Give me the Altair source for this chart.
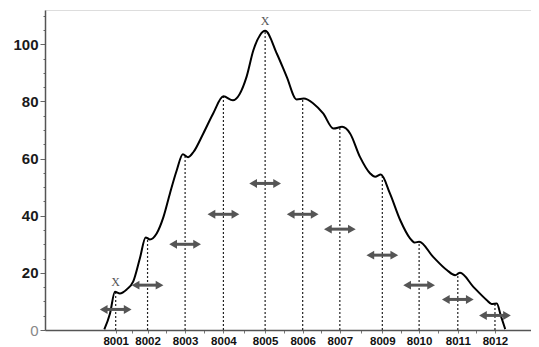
import altair as alt
import pandas as pd

# categories along the horizontal axis (8008 is absent in the source)
codes = ["8001", "8002", "8003", "8004", "8005", "8006", "8007", "8009", "8010", "8011", "8012"]
# location of each category along the axis (in category-step units)
cat_pos = [0.0, 0.84, 1.83, 2.84, 3.94, 4.93, 5.91, 7.03, 8.0, 9.02, 10.0]
# height where each dotted line meets the curve
peak_vals = [13.4, 32.4, 61.5, 81.8, 104.7, 81.0, 71.0, 54.4, 30.9, 20.0, 9.3]
# height of the double-headed arrow at each category
arrow_vals = [7.2, 15.7, 30.0, 40.5, 51.3, 40.5, 35.3, 26.2, 15.7, 10.7, 5.1]
# categories marked with an "X"
marked = ["8001", "8005"]

# the smooth curve
curve_u = [-0.30, -0.15, -0.02, 0.11, 0.29, 0.46, 0.64, 0.79, 0.90, 1.08, 1.26, 1.43, 1.61,
           1.77, 1.91, 2.05, 2.31, 2.57, 2.84, 3.09, 3.45, 3.63, 3.80, 3.94, 4.25, 4.51,
           4.77, 4.96, 5.21, 5.47, 5.74, 5.97, 6.18, 6.44, 6.71, 6.84, 6.99, 7.23, 7.50,
           7.76, 7.89, 8.00, 8.37, 8.73, 8.95, 9.08, 9.43, 9.78, 9.91, 10.05, 10.15, 10.27]
curve_v = [0.2, 5.8, 13.4, 12.8, 14.2, 16.9, 25.2, 32.4, 31.7, 33.8, 39.6, 47.8, 55.9,
           61.5, 60.5, 62.3, 68.8, 75.8, 81.8, 80.4, 88.6, 97.9, 103.1, 104.7, 96.7, 88.6,
           80.7, 81.0, 79.3, 75.8, 70.5, 71.1, 68.8, 60.6, 54.8, 53.6, 54.4, 47.8, 38.5,
           32.1, 30.6, 30.9, 25.6, 21.0, 19.2, 20.0, 15.1, 10.5, 9.1, 9.3, 5.2, 0.3]

y_ticks = list(range(0, 115, 5))

cats = pd.DataFrame({"code": codes, "pos": cat_pos, "peak": peak_vals, "arrow": arrow_vals})
cats["zero"] = 0.0
cats["mark"] = cats["code"].isin(marked)
curve = pd.DataFrame({"pos": curve_u, "val": curve_v})

mids = [(a + b) / 2 for a, b in zip(cat_pos[:-1], cat_pos[1:])]
x_values = sorted(cat_pos + mids)
label_expr = "".join(f"datum.value === {p} ? '{c}' : " for p, c in zip(cat_pos, codes)) + "''"

x_scale = alt.Scale(domain=[-1.864, 10.95], nice=False, zero=False)
y_scale = alt.Scale(domain=[0, 112], nice=False)

x_axis = alt.Axis(
    values=x_values, labelExpr=label_expr, title=None, grid=False,
    domainColor="#555", domainWidth=1.5, tickColor="#777", tickSize=3,
    labelFont="Liberation Sans", labelFontSize=11.5, labelFontWeight="bold",
    labelColor="#111", labelPadding=2, labelOverlap=False,
)
y_axis = alt.Axis(
    values=y_ticks, title=None, grid=False,
    labelExpr="datum.value % 20 === 0 ? datum.label : ''",
    domainColor="#555", domainWidth=1.5, tickColor="#666",
    tickSize={"condition": {"test": "datum.value % 20 === 0", "value": 5}, "value": 2},
    labelFont="Liberation Sans", labelFontSize=15,
    labelFontWeight={"condition": {"test": "datum.value === 0", "value": "normal"}, "value": "bold"},
    labelColor={"condition": {"test": "datum.value === 0", "value": "#888"}, "value": "#1a1a1a"},
    labelPadding=2,
)

X = lambda f: alt.X(f, scale=x_scale, axis=x_axis)
Y = lambda f: alt.Y(f, scale=y_scale, axis=y_axis)

dotted = alt.Chart(cats).mark_rule(color="#222", strokeWidth=1.2, strokeDash=[2, 2]).encode(
    x=X("pos:Q"), y=Y("zero:Q"), y2="peak:Q"
)

line = alt.Chart(curve).mark_line(color="#000", strokeWidth=2, interpolate="monotone").encode(
    x=X("pos:Q"), y=Y("val:Q")
)

shaft = alt.Chart(cats).mark_rule(color="#555", strokeWidth=3, xOffset=-10, x2Offset=10).encode(
    x=X("pos:Q"), x2="pos:Q", y=Y("arrow:Q")
)
head_l = alt.Chart(cats).mark_point(shape="triangle-left", filled=True, color="#555",
                                    size=80, opacity=1, xOffset=-12).encode(
    x=X("pos:Q"), y=Y("arrow:Q")
)
head_r = alt.Chart(cats).mark_point(shape="triangle-right", filled=True, color="#555",
                                    size=80, opacity=1, xOffset=12).encode(
    x=X("pos:Q"), y=Y("arrow:Q")
)

xmarks = alt.Chart(cats).transform_filter("datum.mark").mark_text(
    text="X", font="Liberation Serif", fontSize=12, color="#555", baseline="bottom", dy=-3
).encode(x=X("pos:Q"), y=Y("peak:Q"))

chart = alt.layer(dotted, line, shaft, head_l, head_r, xmarks).properties(
    width=486, height=320,
    autosize=alt.AutoSizeParams(type="none"),
    padding={"left": 37, "top": 2, "right": 0, "bottom": 17},
).configure_view(stroke=None).configure(background="white")

chart.save("out.html", embed_options={"renderer": "svg", "actions": False})
